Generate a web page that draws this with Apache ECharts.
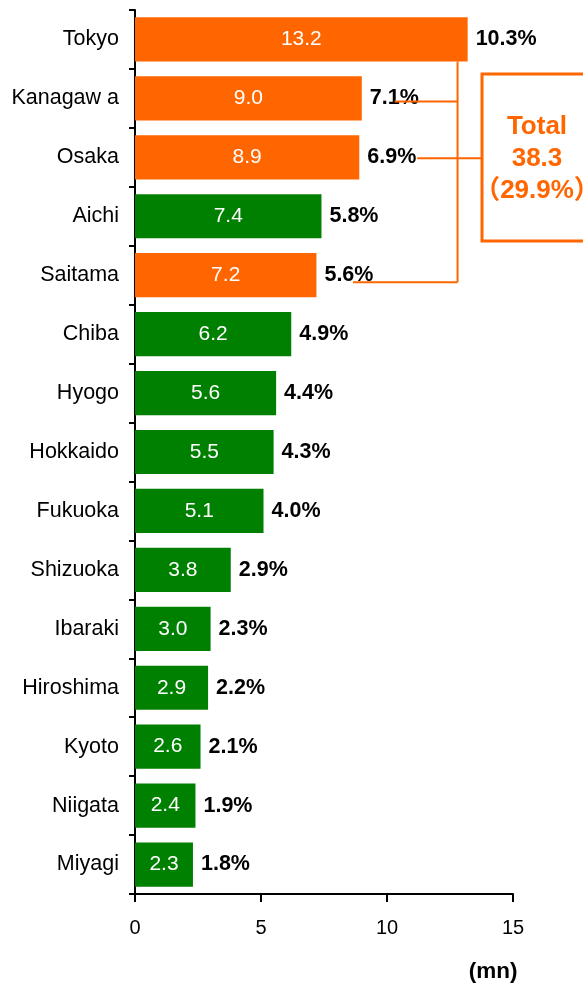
<!DOCTYPE html>
<html>
<head>
<meta charset="utf-8">
<script src="https://cdn.jsdelivr.net/npm/echarts@6/dist/echarts.min.js"></script>
<style>
    html, body { margin: 0; padding: 0; background: #fff; }
    #cn1 { width: 583px; height: 984px; }
</style>
</head>
<body>
<div id="cn1"></div>
<script>
'use strict';

const arrPref = ['Tokyo', 'Kanagaw a', 'Osaka', 'Aichi', 'Saitama', 'Chiba', 'Hyogo', 'Hokkaido',
    'Fukuoka', 'Shizuoka', 'Ibaraki', 'Hiroshima', 'Kyoto', 'Niigata', 'Miyagi'];
const arrValue = [13.2, 9.0, 8.9, 7.4, 7.2, 6.2, 5.6, 5.5, 5.1, 3.8, 3.0, 2.9, 2.6, 2.4, 2.3];
const arrShare = ['10.3%', '7.1%', '6.9%', '5.8%', '5.6%', '4.9%', '4.4%', '4.3%', '4.0%', '2.9%',
    '2.3%', '2.2%', '2.1%', '1.9%', '1.8%'];
const arrTotal = ['Total', '38.3', '（29.9%）'];
const arrHighlight = ['Tokyo', 'Kanagaw a', 'Osaka', 'Saitama'];
const xTicks = [0, 5, 10, 15];

const ORANGE = '#FF6600';
const GREEN = '#008000';
const FONT = '"Liberation Sans", Arial, sans-serif';

const chart = echarts.init(cn1);

const option = {
    animation: false,
    grid: { left: 135, top: 10, width: 378, height: 884, containLabel: false },
    xAxis: {
        type: 'value',
        min: xTicks[0],
        max: xTicks[xTicks.length - 1],
        interval: 5,
        splitLine: { show: false },
        axisLine: { show: true, lineStyle: { color: '#000', width: 2 } },
        axisTick: { show: true, length: 8, lineStyle: { color: '#000', width: 2 } },
        axisLabel: { color: '#000', fontSize: 20, fontFamily: FONT, margin: 24 }
    },
    yAxis: {
        type: 'category',
        inverse: true,
        data: arrPref,
        axisLine: { show: true, lineStyle: { color: '#000', width: 2 } },
        axisTick: { show: true, length: 6, lineStyle: { color: '#000', width: 2 } },
        axisLabel: { color: '#000', fontSize: 21.5, fontFamily: FONT, margin: 16 }
    },
    series: [{
        type: 'bar',
        barWidth: '75%',
        data: arrValue.map((v, i) => ({
            value: v,
            itemStyle: { color: arrHighlight.includes(arrPref[i]) ? ORANGE : GREEN }
        })),
        label: {
            show: true,
            position: 'inside',
            color: '#fff',
            fontSize: 21,
            fontFamily: FONT,
            formatter: p => p.value.toFixed(1)
        }
    }, {
        // share labels to the right of the bars
        type: 'bar',
        barWidth: '75%',
        barGap: '-100%',
        data: arrValue,
        itemStyle: { color: 'rgba(0,0,0,0)' },
        label: {
            show: true,
            position: 'right',
            distance: 8,
            color: '#000',
            fontSize: 21.5,
            fontWeight: 'bold',
            fontFamily: FONT,
            formatter: p => arrShare[p.dataIndex]
        },
        silent: true
    }]
};

chart.setOption(option);

// bracket and total box
const px = v => chart.convertToPixel({ xAxisIndex: 0 }, v);
const py = name => chart.convertToPixel({ yAxisIndex: 0 }, name);
const vx = px(12.8);
const boxL = px(13.77);
const lineStyle = { stroke: ORANGE, lineWidth: 2 };
const mkLine = (x1, y1, x2, y2) => ({
    type: 'line', z: 100, shape: { x1, y1, x2, y2 }, style: lineStyle
});

chart.setOption({
    graphic: [
        mkLine(vx, py('Tokyo') + 22, vx, py('Saitama') + 7),
        mkLine(px(10.3), py('Kanagaw a') + 3, vx, py('Kanagaw a') + 3),
        mkLine(px(11.2), py('Osaka') + 1, boxL, py('Osaka') + 1),
        mkLine(px(8.65), py('Saitama') + 7, vx, py('Saitama') + 7),
        {
            type: 'rect', z: 100,
            shape: { x: boxL, y: 74, width: 113, height: 167 },
            style: { fill: '#fff', stroke: ORANGE, lineWidth: 3 }
        },
        ...arrTotal.map((s, i) => ({
            type: 'text', z: 101,
            x: 537, y: 127 + i * 32,
            style: {
                text: s, fill: ORANGE, fontSize: 26, fontWeight: 'bold',
                fontFamily: '"Liberation Sans", "Noto Sans CJK JP", sans-serif',
                align: 'center', verticalAlign: 'middle'
            }
        })),
        {
            type: 'text',
            x: 493, y: 972,
            style: {
                text: '(mn)', fill: '#000', fontSize: 22.5, fontWeight: 'bold',
                fontFamily: FONT, align: 'center', verticalAlign: 'middle'
            }
        }
    ]
});
</script>
</body>
</html>
